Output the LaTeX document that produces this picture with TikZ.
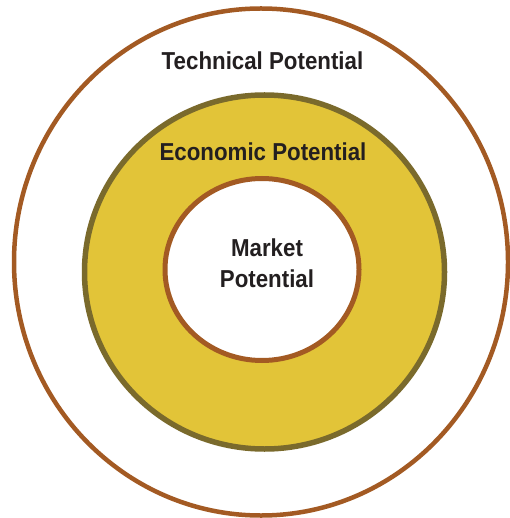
\documentclass[tikz,border=0pt]{standalone}
\usepackage{fontspec}
\setmainfont{Liberation Sans}[FakeStretch=0.91]
\usetikzlibrary{shapes.geometric}
\definecolor{rimbrown}{HTML}{A35A23}
\definecolor{rimolive}{HTML}{7A6A2C}
\definecolor{econyellow}{HTML}{E2C438}
\definecolor{textgray}{HTML}{231F20}

\begin{document}
\begin{tikzpicture}[x=1pt,y=-1pt,
                   ring/.style={ellipse,inner sep=0pt,outer sep=0pt},
                   lbl/.style={font=\fontsize{24.5}{31}\selectfont\bfseries,text=textgray,align=center}]
\useasboundingbox (0,0) rectangle (509,518);
\node[ring,draw=rimbrown,line width=4.5pt,fill=white,minimum width=494pt,minimum height=507pt] (technical) at (261,262) {};
\node[ring,draw=rimolive,line width=5.5pt,fill=econyellow,minimum width=360pt,minimum height=354pt] (economic) at (264.5,272) {};
\node[ring,draw=rimbrown,line width=5pt,fill=white,minimum width=194pt,minimum height=182pt] (market) at (262,269.5) {};
\node[lbl] (techlbl) at (262.5,61) {Technical Potential};
\node[lbl] (econlbl) at (263,152) {Economic Potential};
\node[lbl] (marketlbl) at (267,263) {Market\\Potential};
\end{tikzpicture}
\end{document}
